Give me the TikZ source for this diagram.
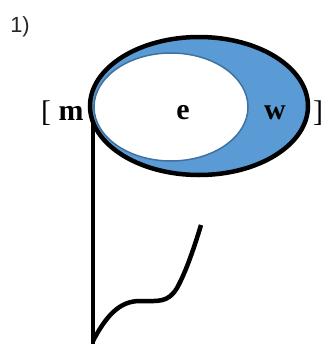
\documentclass[tikz,border=0pt]{standalone}
\usepackage{fontspec}
\setmainfont{Liberation Serif}
\newfontfamily\labelfont{Liberation Sans}
\usepackage{tikz}
\definecolor{vowelblue}{HTML}{5B9BD5}
\definecolor{vowelrim}{HTML}{41719C}
\tikzstyle{seg}   = [font=\fontsize{30}{34}\selectfont\bfseries, inner sep=0pt]
\tikzstyle{brack} = [font=\fontsize{30}{34}\selectfont, inner sep=0pt]
\tikzstyle{thickline} = [line width=4.5bp, line cap=round]

\begin{document}
\begin{tikzpicture}[x=1bp, y=-1bp]
  \useasboundingbox (0,0) rectangle (326,344);

  % Syllable ellipses
  \fill[vowelblue] (199,106) ellipse [x radius=109, y radius=69];
  \draw[vowelrim, fill=white, line width=1.5bp] (171,107) ellipse [x radius=77, y radius=54];
  \draw[thickline] (199,106) ellipse [x radius=109, y radius=69];

  % Stem and contour
  \coordinate (top) at (93,121);
  \coordinate (foot) at (93,344);
  \coordinate (tip) at (201,225);
  \draw[thickline, line cap=butt] (top) -- (foot);
  \draw[thickline, line cap=butt] (93,341) .. controls (108,312) and (122,301) .. (140,301)
        .. controls (158,301) and (168,303) .. (177,288)
        .. controls (186,272) and (195,245) .. (tip);

  % Labels
  \node[font=\labelfont\fontsize{22}{26}\selectfont, text=black!85, inner sep=0pt] (num) at (20,27) {1)};
  \node[brack] (lb) at (46,113) {[};
  \node[seg] (m) at (71,113) {m};
  \node[seg] (e) at (183,113) {e};
  \node[seg] (w) at (275,113) {w};
  \node[brack] (rb) at (318,113) {]};
\end{tikzpicture}
\end{document}
